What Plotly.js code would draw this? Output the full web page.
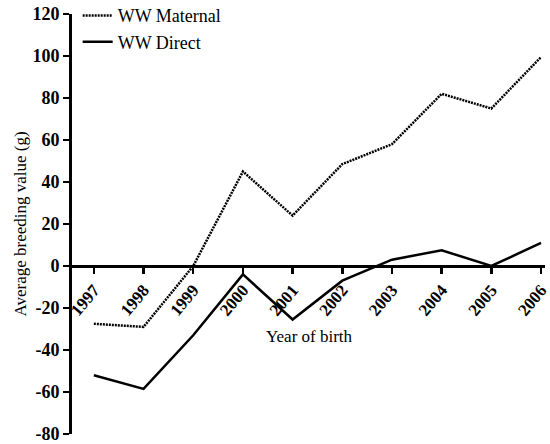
<!DOCTYPE html>
<html>
<head>
<meta charset="utf-8">
<script src="https://cdn.plot.ly/plotly-3.0.1.min.js"></script>
<style>html,body{margin:0;padding:0;background:#fff;}#chart{width:550px;height:444px;}</style>
</head>
<body>
<div id="chart"></div>
<script>
const years = [1997, 1998, 1999, 2000, 2001, 2002, 2003, 2004, 2005, 2006];
const maternal = [-27.5, -29, 0, 45, 24, 48.5, 58, 82, 75, 99.5];
const direct = [-52, -58.5, -33, -4, -25.5, -7, 3, 7.5, 0, 11];
const seriesNames = ["WW Maternal", "WW Direct"];
const yTicks = [-80, -60, -40, -20, 0, 20, 40, 60, 80, 100, 120];
const yTickText = ["-80", "-60", "-40", "-20", "0", "20", "40", "60", "80", "100", "120"];
const xTickText = ["1997", "1998", "1999", "2000", "2001", "2002", "2003", "2004", "2005", "2006"];

const serif = "Liberation Serif";

const traces = [
  {x: years, y: maternal, name: seriesNames[0], mode: "lines",
   line: {color: "#000", width: 2.5, dash: "2px,1px"}},
  {x: years, y: direct, name: seriesNames[1], mode: "lines",
   line: {color: "#000", width: 2.5}}
];

const layout = {
  width: 550, height: 444,
  margin: {l: 72, r: 5, t: 14, b: 10, autoexpand: false},
  paper_bgcolor: "#fff", plot_bgcolor: "#fff",
  showlegend: true,
  legend: {x: 0.012, y: 1.04, xanchor: "left", yanchor: "top", bgcolor: "rgba(0,0,0,0)",
           font: {family: serif, size: 18, color: "#000"}, tracegroupgap: 0},
  xaxis: {
    range: [1996.56, 2006.08], tickvals: years, ticktext: xTickText,
    tickangle: -50, ticks: "outside", ticklen: 6, tickwidth: 2.5, tickcolor: "#000",
    showline: true, linewidth: 2.5, linecolor: "#000", showgrid: false, zeroline: false,
    anchor: "free", position: 0.4, automargin: false, ticklabeloverflow: "allow",
    tickfont: {family: serif, size: 17, color: "#000", weight: "bold"}
  },
  yaxis: {
    range: [-80, 120], tickvals: yTicks, ticktext: yTickText, ticks: "outside", ticklen: 6, tickwidth: 2.5, tickcolor: "#000",
    showline: true, linewidth: 3, linecolor: "#000", showgrid: false, zeroline: false, automargin: false,
    ticklabeloverflow: "allow",
    tickfont: {family: serif, size: 18, color: "#000", weight: "bold"},
    title: {text: "Average breeding value (g)", font: {family: serif, size: 17, color: "#000"}, standoff: 2}
  },
  annotations: [{
    text: "Year of birth", xref: "paper", yref: "paper", x: 0.503, y: 0.233,
    xanchor: "center", yanchor: "middle", showarrow: false,
    font: {family: serif, size: 17, color: "#000"}
  }]
};

Plotly.newPlot("chart", traces, layout, {displayModeBar: false, staticPlot: true});
</script>
</body>
</html>
